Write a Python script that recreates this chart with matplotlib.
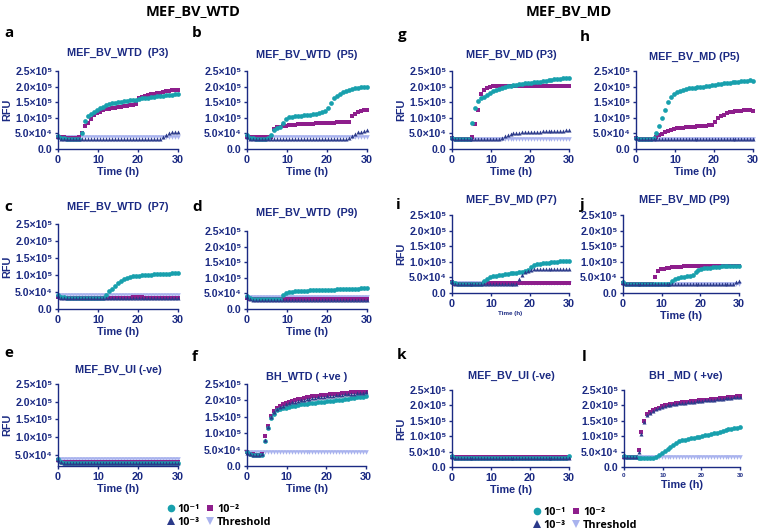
import numpy as np
import matplotlib
matplotlib.use("Agg")
import matplotlib.pyplot as plt
from matplotlib.lines import Line2D

plt.rcParams['font.family'] = ['Liberation Sans', 'DejaVu Sans']

NAVY = '#1b2a83'
TEAL = '#18a0ad'
MAGENTA = '#8e1e8c'
DKBLUE = '#2b3a8a'
THRCOL = '#a9b3ee'

W, H = 758, 532

# time axis (h), one reading every 45 min
time_h = [0, 0.75, 1.5, 2.25, 3.0, 3.75, 4.5, 5.25, 6.0, 6.75,
          7.5, 8.25, 9.0, 9.75, 10.5, 11.25, 12.0, 12.75, 13.5, 14.25,
          15.0, 15.75, 16.5, 17.25, 18.0, 18.75, 19.5, 20.25, 21.0, 21.75,
          22.5, 23.25, 24.0, 24.75, 25.5, 26.25, 27.0, 27.75, 28.5, 29.25,
          30.0]

# RFU values in units of 1e4;  c1 = 10^-1, c2 = 10^-2, c3 = 10^-3
a_c1 = [4.3,3.6,3.4,3.3,3.2,3.2,3.2,3.3,5.0,9.0,
        10.6,11.3,11.9,12.5,13.1,13.6,14.0,14.3,14.6,14.8,
        15.0,15.2,15.3,15.4,15.6,15.7,15.8,16.0,16.2,16.4,
        16.5,16.6,16.8,16.9,17.0,17.1,17.2,17.3,17.4,17.5,
        17.5]
a_c2 = [3.9,3.8,3.7,3.6,3.6,3.6,3.6,3.7,5.0,7.3,
        8.3,9.6,10.8,11.5,12.0,12.4,12.7,12.9,13.1,13.3,
        13.4,13.6,13.7,13.8,14.0,14.2,14.3,16.4,16.8,17.1,
        17.3,17.5,17.7,17.9,18.1,18.3,18.5,18.7,18.8,18.9,
        19.0]
a_c3 = [4.0,3.3,3.1,3.1,3.1,3.1,3.1,3.1,3.1,3.1,
        3.1,3.1,3.1,3.1,3.1,3.1,3.1,3.1,3.1,3.1,
        3.1,3.1,3.1,3.1,3.1,3.1,3.1,3.1,3.1,3.1,
        3.1,3.1,3.1,3.1,3.1,3.8,4.5,5.0,5.3,5.5,
        5.6]

b_c1 = [4.5,3.6,3.4,3.3,3.3,3.3,3.3,3.4,4.5,6.0,
        6.6,7.2,8.2,9.6,10.1,10.3,10.5,10.6,10.7,10.8,
        10.9,11.0,11.1,11.2,11.4,11.7,12.3,13.3,14.8,16.3,
        17.0,17.6,18.2,18.7,19.0,19.2,19.4,19.6,19.8,19.9,
        20.0]
b_c2 = [4.0,3.8,3.7,3.7,3.7,3.7,3.7,3.8,3.9,6.3,
        6.9,7.2,7.4,7.5,7.6,7.7,7.8,7.9,7.9,8.0,
        8.0,8.1,8.1,8.2,8.2,8.3,8.3,8.4,8.4,8.4,
        8.5,8.5,8.5,8.6,8.6,10.6,11.3,11.8,12.1,12.4,
        12.6]
b_c3 = [4.0,3.3,3.1,3.1,3.1,3.1,3.1,3.1,3.1,3.1,
        3.1,3.1,3.1,3.1,3.1,3.1,3.1,3.1,3.1,3.1,
        3.1,3.1,3.1,3.1,3.1,3.1,3.1,3.1,3.1,3.1,
        3.1,3.1,3.1,3.1,3.5,4.3,4.9,5.3,5.6,5.8,
        6.0]

c_c1 = [4.0,3.5,3.4,3.3,3.3,3.3,3.3,3.3,3.3,3.3,
        3.3,3.3,3.3,3.3,3.3,3.3,4.2,5.2,6.0,6.9,
        7.6,8.2,8.7,9.1,9.4,9.6,9.7,9.8,9.9,10.0,
        10.0,10.1,10.2,10.2,10.3,10.3,10.4,10.4,10.5,10.6,
        10.5]
c_c2 = [3.6,3.3,3.2,3.2,3.2,3.2,3.2,3.2,3.2,3.2,
        3.2,3.2,3.2,3.2,3.2,3.2,3.2,3.2,3.2,3.2,
        3.2,3.3,3.3,3.3,3.3,3.4,3.4,3.4,3.4,3.3,
        3.3,3.3,3.3,3.2,3.2,3.2,3.2,3.2,3.2,3.2,
        3.2]
c_c3 = [3.9,3.2,3.1,3.1,3.1,3.1,3.1,3.1,3.1,3.1,
        3.1,3.1,3.1,3.1,3.1,3.1,3.1,3.1,3.1,3.1,
        3.1,3.1,3.1,3.1,3.1,3.1,3.1,3.1,3.1,3.1,
        3.1,3.1,3.1,3.1,3.1,3.1,3.1,3.1,3.1,3.1,
        3.1]

d_c1 = [4.2,3.5,3.3,3.3,3.2,3.2,3.2,3.2,3.2,3.2,
        3.2,3.2,4.6,5.2,5.5,5.6,5.7,5.8,5.8,5.9,
        5.9,6.0,6.0,6.0,6.1,6.1,6.1,6.2,6.2,6.2,
        6.3,6.3,6.3,6.4,6.4,6.4,6.5,6.5,6.6,6.6,
        6.6]
d_c2 = [3.6,3.2,3.1,3.1,3.1,3.1,3.1,3.1,3.1,3.1,
        3.1,3.1,3.1,3.1,3.1,3.1,3.1,3.1,3.1,3.1,
        3.1,3.1,3.1,3.1,3.1,3.1,3.1,3.1,3.1,3.1,
        3.1,3.1,3.1,3.1,3.1,3.1,3.1,3.1,3.1,3.1,
        3.1]
d_c3 = [3.8,3.1,3.0,3.0,3.0,3.0,3.0,3.0,3.0,3.0,
        3.0,3.0,3.0,3.0,3.0,3.0,3.0,3.0,3.0,3.0,
        3.0,3.0,3.0,3.0,3.0,3.0,3.0,3.0,3.0,3.0,
        3.0,3.0,3.0,3.0,3.0,3.0,3.0,3.0,3.0,3.0,
        3.0]

e_c1 = [4.0,3.0,2.7,2.7,2.7,2.7,2.7,2.7,2.7,2.7,
        2.7,2.7,2.7,2.7,2.7,2.7,2.7,2.7,2.7,2.7,
        2.7,2.7,2.7,2.7,2.7,2.7,2.7,2.7,2.7,2.7,
        2.7,2.7,2.7,2.7,2.7,2.7,2.7,2.7,2.7,2.7,
        2.7]
e_c2 = [3.6,3.0,2.9,2.9,2.9,2.9,2.9,2.9,2.9,2.9,
        2.9,2.9,2.9,2.9,2.9,2.9,2.9,2.9,2.9,2.9,
        2.9,2.9,2.9,2.9,2.9,2.9,2.9,2.9,2.9,2.9,
        2.9,2.9,2.9,2.9,2.9,2.9,2.9,2.9,2.9,2.9,
        2.9]
e_c3 = [3.5,2.9,2.8,2.8,2.8,2.8,2.8,2.8,2.8,2.8,
        2.8,2.8,2.8,2.8,2.8,2.8,2.8,2.8,2.8,2.8,
        2.8,2.8,2.8,2.8,2.8,2.8,2.8,2.8,2.8,2.8,
        2.8,2.8,2.8,2.8,2.8,2.8,2.8,2.8,2.8,2.8,
        2.8]

f_c1 = [4.2,3.8,3.5,3.4,3.4,3.5,7.6,11.6,14.7,16.0,
        17.0,17.3,17.6,17.8,18.0,18.2,18.4,18.6,18.8,18.9,
        19.0,19.1,19.2,19.3,19.4,19.5,19.6,19.7,19.8,19.9,
        20.0,20.1,20.2,20.3,20.5,20.6,20.8,20.9,21.0,21.1,
        21.2]
f_c2 = [4.2,3.8,3.6,3.5,3.5,3.7,9.2,12.3,15.3,16.8,
        17.8,18.4,18.9,19.3,19.6,19.9,20.1,20.3,20.5,20.7,
        20.9,21.0,21.2,21.3,21.4,21.5,21.6,21.7,21.8,21.9,
        22.0,22.1,22.2,22.3,22.4,22.5,22.5,22.6,22.6,22.7,
        22.7]
f_c3 = [4.1,3.7,3.5,3.4,3.4,3.6,8.0,12.0,15.0,16.4,
        17.3,17.9,18.4,18.8,19.1,19.4,19.6,19.8,20.0,20.2,
        20.4,20.5,20.7,20.8,20.9,21.0,21.1,21.2,21.3,21.4,
        21.5,21.6,21.7,21.8,21.9,22.0,22.1,22.2,22.3,22.4,
        22.5]

g_c1 = [3.6,3.2,3.1,3.1,3.1,3.2,3.3,8.2,13.3,15.5,
        16.3,16.8,17.4,18.0,18.5,18.9,19.3,19.6,19.9,20.1,
        20.3,20.5,20.6,20.8,20.9,21.0,21.1,21.3,21.4,21.5,
        21.6,21.8,21.9,22.0,22.1,22.3,22.4,22.5,22.6,22.7,
        22.8]
g_c2 = [3.5,3.2,3.1,3.1,3.1,3.1,3.2,4.0,8.0,12.5,
        17.5,19.0,19.7,20.0,20.2,20.3,20.3,20.3,20.3,20.3,
        20.3,20.3,20.3,20.3,20.3,20.3,20.3,20.3,20.3,20.3,
        20.3,20.3,20.3,20.3,20.3,20.3,20.3,20.3,20.3,20.3,
        20.3]
g_c3 = [3.5,3.3,3.3,3.3,3.3,3.3,3.3,3.3,3.3,3.3,
        3.3,3.3,3.3,3.3,3.3,3.3,3.3,3.6,4.1,4.5,
        4.8,5.0,5.1,5.2,5.3,5.4,5.4,5.5,5.5,5.6,
        5.6,5.7,5.7,5.7,5.8,5.8,5.8,5.9,5.9,6.0,
        6.0]

h_c1 = [3.6,3.2,3.1,3.1,3.1,3.2,3.4,5.0,7.5,10.0,
        12.5,15.0,16.8,17.6,18.2,18.6,18.9,19.2,19.4,19.5,
        19.7,19.8,19.9,20.0,20.2,20.3,20.4,20.5,20.7,20.8,
        21.0,21.1,21.3,21.4,21.5,21.6,21.7,21.8,21.9,22.0,
        21.9]
h_c2 = [3.5,3.2,3.2,3.2,3.2,3.2,3.3,3.8,4.4,4.9,
        5.3,5.8,6.2,6.5,6.6,6.7,6.8,6.9,7.0,7.1,
        7.2,7.3,7.4,7.4,7.5,7.6,7.7,8.8,10.0,10.6,
        11.0,11.4,11.7,11.9,12.1,12.2,12.3,12.4,12.5,12.4,
        12.2]
h_c3 = [3.5,3.2,3.2,3.2,3.2,3.2,3.2,3.2,3.2,3.2,
        3.2,3.2,3.2,3.2,3.2,3.2,3.2,3.2,3.2,3.2,
        3.2,3.2,3.2,3.2,3.2,3.2,3.2,3.2,3.2,3.2,
        3.2,3.2,3.2,3.2,3.2,3.2,3.2,3.2,3.2,3.2,
        3.2]

i_c1 = [3.6,3.1,3.0,3.0,3.0,3.0,3.0,3.0,3.0,3.0,
        3.0,4.0,4.6,5.2,5.5,5.6,5.7,5.8,6.0,6.1,
        6.3,6.4,6.5,6.6,6.8,7.0,7.5,8.4,9.0,9.2,
        9.4,9.5,9.6,9.7,9.8,9.9,10.0,10.1,10.2,10.3,
        10.3]
i_c2 = [3.4,3.0,3.0,3.0,3.0,3.0,3.0,3.0,3.0,3.0,
        3.0,3.1,3.1,3.1,3.1,3.1,3.1,3.1,3.1,3.1,
        3.1,3.1,3.1,3.1,3.1,3.1,3.1,3.1,3.1,3.1,
        3.1,3.1,3.1,3.1,3.1,3.1,3.1,3.1,3.1,3.1,
        3.1]
i_c3 = [3.4,3.0,3.0,3.0,3.0,3.0,3.0,3.0,3.0,3.0,
        3.0,3.0,3.0,3.0,3.0,3.0,3.0,3.0,3.0,3.0,
        3.0,3.0,3.0,4.5,5.7,6.6,7.2,7.5,7.6,7.7,
        7.7,7.7,7.7,7.7,7.7,7.7,7.8,7.8,7.8,7.8,
        7.8]

j_c1 = [3.6,3.0,2.9,2.9,2.9,2.9,2.9,2.9,2.9,2.9,
        2.9,2.9,2.9,2.9,2.9,2.9,2.9,3.8,4.4,4.8,
        5.0,5.2,5.3,5.5,5.9,6.6,7.3,7.7,7.9,8.0,
        8.1,8.2,8.3,8.4,8.5,8.5,8.6,8.6,8.7,8.7,
        8.7]
j_c2 = [3.3,3.0,3.0,3.0,3.0,3.0,3.0,3.0,3.0,3.0,
        3.0,5.0,7.2,7.6,7.8,8.0,8.1,8.2,8.3,8.4,
        8.4,8.5,8.5,8.6,8.6,8.6,8.7,8.7,8.7,8.7,
        8.7,8.8,8.8,8.8,8.8,8.8,8.8,8.8,8.8,8.8,
        8.8]
j_c3 = [3.3,2.9,2.9,2.9,2.9,2.9,2.9,2.9,2.9,2.9,
        2.9,2.9,2.9,2.9,2.9,2.9,2.9,2.9,2.9,2.9,
        2.9,2.9,2.9,2.9,2.9,2.9,2.9,2.9,2.9,2.9,
        2.9,2.9,2.9,2.9,2.9,2.9,2.9,2.9,2.9,3.4,
        3.9]

k_c1 = [3.6,3.0,3.0,3.0,3.0,3.0,3.0,3.0,3.0,3.0,
        3.0,3.0,3.0,3.0,3.0,3.0,3.0,3.0,3.0,3.0,
        3.0,3.0,3.0,3.0,3.0,3.0,3.0,3.0,3.0,3.0,
        3.0,3.0,3.0,3.0,3.0,3.0,3.0,3.0,3.0,3.0,
        3.5]
k_c2 = [3.4,3.2,3.2,3.2,3.2,3.2,3.2,3.2,3.2,3.2,
        3.2,3.2,3.2,3.2,3.2,3.2,3.2,3.2,3.2,3.2,
        3.2,3.2,3.2,3.2,3.2,3.2,3.2,3.2,3.2,3.2,
        3.2,3.2,3.2,3.2,3.2,3.2,3.2,3.2,3.2,3.2,
        3.0]
k_c3 = [3.2,3.0,3.0,3.0,3.0,3.0,3.0,3.0,3.0,3.0,
        3.0,3.0,3.0,3.0,3.0,3.0,3.0,3.0,3.0,3.0,
        3.0,3.0,3.0,3.0,3.0,3.0,3.0,3.0,3.0,3.0,
        3.0,3.0,3.0,3.0,3.0,3.0,3.0,3.0,3.0,3.0,
        3.0]

l_c1 = [3.6,3.3,3.3,3.2,3.1,3.0,2.9,2.9,2.9,2.9,
        3.0,3.2,3.8,4.6,5.3,5.9,6.5,7.1,7.7,8.3,
        8.7,8.9,9.1,9.3,9.5,9.7,9.9,10.1,10.3,10.5,
        10.7,10.9,11.1,11.4,11.7,12.0,12.2,12.4,12.6,12.8,
        12.9]
l_c2 = [3.4,3.3,3.3,3.3,3.3,5.5,11.5,15.0,17.3,17.8,
        18.4,18.9,19.3,19.7,20.0,20.2,20.4,20.6,20.7,20.9,
        21.0,21.1,21.2,21.3,21.4,21.5,21.6,21.7,21.8,21.9,
        22.0,22.1,22.2,22.3,22.4,22.5,22.6,22.7,22.8,22.9,
        23.0]
l_c3 = [3.4,3.3,3.3,3.3,3.3,4.8,10.8,14.6,16.9,17.6,
        18.2,18.7,19.1,19.5,19.8,20.0,20.2,20.4,20.5,20.7,
        20.8,20.9,21.0,21.1,21.2,21.3,21.4,21.5,21.6,21.7,
        21.8,21.9,22.0,22.1,22.2,22.3,22.4,22.5,22.6,22.7,
        22.8]

# threshold level per panel (1e4 RFU)
thresholds = {'a': 4.0, 'b': 4.0, 'c': 4.0, 'd': 4.0, 'e': 3.9, 'f': 4.2,
              'g': 3.2, 'h': 3.2, 'i': 3.1, 'j': 3.0, 'k': 3.0, 'l': 3.1}

titles = {'a': 'MEF_BV_WTD  (P3)', 'b': 'MEF_BV_WTD  (P5)',
          'c': 'MEF_BV_WTD  (P7)', 'd': 'MEF_BV_WTD  (P9)',
          'e': 'MEF_BV_UI (-ve)', 'f': 'BH_WTD ( +ve )',
          'g': 'MEF_BV_MD (P3)', 'h': 'MEF_BV_MD (P5)',
          'i': 'MEF_BV_MD (P7)', 'j': 'MEF_BV_MD (P9)',
          'k': 'MEF_BV_UI (-ve)', 'l': 'BH _MD ( +ve)'}

series = {'a': (a_c1, a_c2, a_c3), 'b': (b_c1, b_c2, b_c3),
          'c': (c_c1, c_c2, c_c3), 'd': (d_c1, d_c2, d_c3),
          'e': (e_c1, e_c2, e_c3), 'f': (f_c1, f_c2, f_c3),
          'g': (g_c1, g_c2, g_c3), 'h': (h_c1, h_c2, h_c3),
          'i': (i_c1, i_c2, i_c3), 'j': (j_c1, j_c2, j_c3),
          'k': (k_c1, k_c2, k_c3), 'l': (l_c1, l_c2, l_c3)}

ytick_vals = [0, 5e4, 1e5, 1.5e5, 2e5, 2.5e5]
ytick_labels = ['0.0', '5.0\u00d710\u2074', '1.0\u00d710\u2075', '1.5\u00d710\u2075',
                '2.0\u00d710\u2075', '2.5\u00d710\u2075']
xtick_vals = [0, 10, 20, 30]

# layout in pixels: left, right, top (=2.5e5), bottom (=ymin)
boxes = {'a': (58, 178, 71, 149), 'b': (247, 367, 71, 149),
         'g': (452, 569, 71, 149), 'h': (636, 753, 71, 149),
         'c': (58, 178, 224, 309), 'd': (247, 367, 231, 309),
         'i': (452, 569, 215, 293), 'j': (623, 739, 215, 293),
         'e': (58, 178, 384, 466), 'f': (247, 366, 384, 466),
         'k': (452, 569, 390, 467), 'l': (624, 740, 390, 467)}
title_pos = {'a': (118, 53), 'b': (307, 55), 'g': (511, 55), 'h': (694, 57),
             'c': (118, 207), 'd': (307, 213), 'i': (511, 200), 'j': (684, 200),
             'e': (118, 370), 'f': (307, 377), 'k': (511, 376), 'l': (686, 376)}
letter_pos = {'a': (4, 33), 'b': (192, 33), 'g': (398, 35), 'h': (580, 37),
              'c': (4, 207), 'd': (192, 207), 'i': (396, 205), 'j': (580, 205),
              'e': (4, 353), 'f': (192, 357), 'k': (397, 355), 'l': (582, 357)}
rfu_panels = ['a', 'c', 'e', 'g', 'i', 'k']

fig = plt.figure(figsize=(W / 100, H / 100), dpi=100)


def fx(x):
    return x / W


def fy(y):
    return 1 - y / H


t = np.array(time_h)
for key, (l, r, top, bot) in boxes.items():
    ax = fig.add_axes([fx(l), fy(bot), (r - l) / W, (bot - top) / H])
    c1, c2, c3 = series[key]
    thr = np.full(len(t), thresholds[key]) * 1e4
    ax.plot(t, thr, 'v', color=THRCOL, ms=3.3, mew=0, clip_on=False)
    ax.plot(t, np.array(c2) * 1e4, 's', color=MAGENTA, ms=3.0, mew=0, clip_on=False)
    ax.plot(t, np.array(c1) * 1e4, 'o', color=TEAL, ms=3.4, mew=0, clip_on=False)
    ax.plot(t, np.array(c3) * 1e4, '^', color=DKBLUE, ms=2.9, mew=0, clip_on=False)

    ax.set_xlim(0, 30)
    if key == 'e':
        ax.set_ylim(1.9e4, 2.5e5)
        ax.set_yticks(ytick_vals[1:])
        ax.set_yticklabels(ytick_labels[1:])
    else:
        ax.set_ylim(0, 2.5e5)
        ax.set_yticks(ytick_vals)
        ax.set_yticklabels(ytick_labels)
    ax.set_xticks(xtick_vals)
    for s in ['top', 'right']:
        ax.spines[s].set_visible(False)
    for s in ['left', 'bottom']:
        ax.spines[s].set_color(NAVY)
        ax.spines[s].set_linewidth(1.0)
    xfs = 4.5 if key == 'l' else 7.8
    ax.tick_params(axis='both', colors=NAVY, length=2.5, width=1.0, pad=1.5)
    ax.tick_params(axis='y', labelsize=7.6)
    ax.tick_params(axis='x', labelsize=xfs)
    for lab in ax.get_xticklabels() + ax.get_yticklabels():
        lab.set_fontweight('bold')
    ax.set_xlabel('Time (h)', fontsize=4.5 if key == 'i' else 7.8,
                  fontweight='bold', color=NAVY, labelpad=1.5)
    if key in rfu_panels:
        ax.set_ylabel('RFU', fontsize=7.8, fontweight='bold', color=NAVY, labelpad=2)

    tx, ty = title_pos[key]
    fig.text(fx(tx), fy(ty), titles[key], ha='center', va='center',
             fontsize=7.8, fontweight='bold', color=NAVY)
    lx, ly = letter_pos[key]
    fig.text(fx(lx), fy(ly), key, ha='left', va='center', fontsize=11,
             fontweight='bold', color='black', family=['Open Sans', 'DejaVu Sans'])

fig.text(fx(193), fy(11), 'MEF_BV_WTD', ha='center', va='center', fontsize=10.5,
         fontweight='bold', color='black', family=['Open Sans', 'DejaVu Sans'])
fig.text(fx(569), fy(11), 'MEF_BV_MD', ha='center', va='center', fontsize=10.5,
         fontweight='bold', color='black', family=['Open Sans', 'DejaVu Sans'])

handles = [
    Line2D([], [], ls='none', marker='o', color=TEAL, ms=5.5, mew=0),
    Line2D([], [], ls='none', marker='^', color=DKBLUE, ms=5.5, mew=0),
    Line2D([], [], ls='none', marker='s', color=MAGENTA, ms=5.0, mew=0),
    Line2D([], [], ls='none', marker='v', color=THRCOL, ms=5.5, mew=0),
]
labels = ['10\u207b\u00b9', '10\u207b\u00b3', '10\u207b\u00b2', 'Threshold']
for cx, cy in [(219, 516), (585, 519)]:
    fig.legend(handles, labels, loc='center', bbox_to_anchor=(fx(cx), fy(cy)),
               ncol=2, frameon=False, handlelength=0.8, handletextpad=0.2,
               columnspacing=0.6, labelspacing=0.15, borderpad=0,
               prop={'size': 7.8, 'weight': 'bold', 'family': ['Open Sans', 'DejaVu Sans']})

fig.savefig('out.png', dpi=100)
